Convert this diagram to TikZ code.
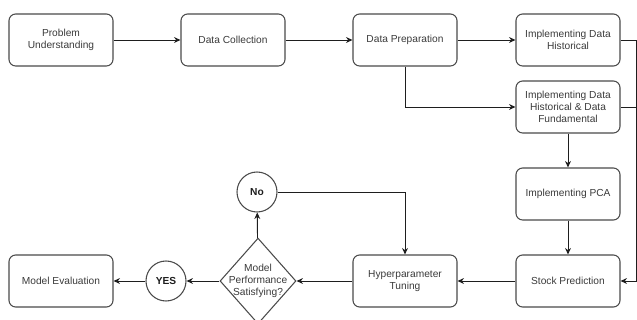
\documentclass[tikz,border=0pt]{standalone}
\usepackage{fontspec}
\setmainfont{Liberation Sans}
\usetikzlibrary{shapes.geometric, arrows.meta}
\definecolor{boxgray}{HTML}{4A4A4A}
\definecolor{txtgray}{HTML}{3A3A3A}
\definecolor{linegray}{HTML}{1E1E1E}

\begin{document}
\begin{tikzpicture}[x=0.03cm, y=-0.03cm, >={Stealth[length=5.5pt,width=5pt]},
    box/.style={draw=boxgray, line width=0.9pt, rounded corners=0.2cm,
        minimum width=3.12cm, minimum height=1.56cm, align=center,
        text=txtgray, font=\fontsize{8.7}{10.5}\selectfont},
    answer/.style={draw=boxgray, line width=0.9pt, circle, minimum size=1.2cm,
        inner sep=0pt, text=linegray, font=\fontsize{8.7}{10.5}\selectfont\bfseries},
    check/.style={draw=boxgray, line width=0.9pt, diamond, aspect=0.886,
        inner sep=-0.1cm, align=center, text=txtgray,
        font=\fontsize{8.7}{10.5}\selectfont},
    link/.style={draw=linegray, line width=0.8pt}]
    \useasboundingbox (0,0) rectangle (637,320);

    % top row
    \node (prob) at (61,40) [box] {Problem\\Understanding};
    \node (coll) at (233,40) [box] {Data Collection};
    \node (prep) at (405,40) [box] {Data Preparation};
    \node (hist) at (568,40) [box] {Implementing Data\\Historical};

    % right column
    \node (histfund) at (568,107) [box] {Implementing Data\\Historical \& Data\\Fundamental};
    \node (pca) at (568,194) [box] {Implementing PCA};
    \node (stock) at (568,281) [box] {Stock Prediction};

    % bottom row
    \node (hyper) at (405,281) [box] {Hyperparameter\\Tuning};
    \node (satis) at (258,281) [check] {Model\\Performance\\Satisfying?};
    \node (yes) at (166,281) [answer] {YES};
    \node (no) at (257,192) [answer] {No};
    \node (evalu) at (61,281) [box] {Model Evaluation};

    \coordinate (busend) at (636,281);

    \draw [link, ->] (prob) -- (coll);
    \draw [link, ->] (coll) -- (prep);
    \draw [link, ->] (prep) -- (hist);
    \draw [link, ->] (prep.south) |- (histfund.west);
    \draw [link, ->] (histfund) -- (pca);
    \draw [link, ->] (pca) -- (stock);
    \draw [link, ->] (hist.east) -| (busend) -- (stock.east);
    \draw [link] (histfund.east) -- (histfund.east -| busend);
    \draw [link, ->] (stock) -- (hyper);
    \draw [link, ->] (hyper) -- (satis);
    \draw [link, ->] (satis) -- (yes);
    \draw [link, ->] (yes) -- (evalu);
    \draw [link, ->] (satis) -- (no);
    \draw [link, ->] (no.east) -| (hyper.north);
\end{tikzpicture}
\end{document}
